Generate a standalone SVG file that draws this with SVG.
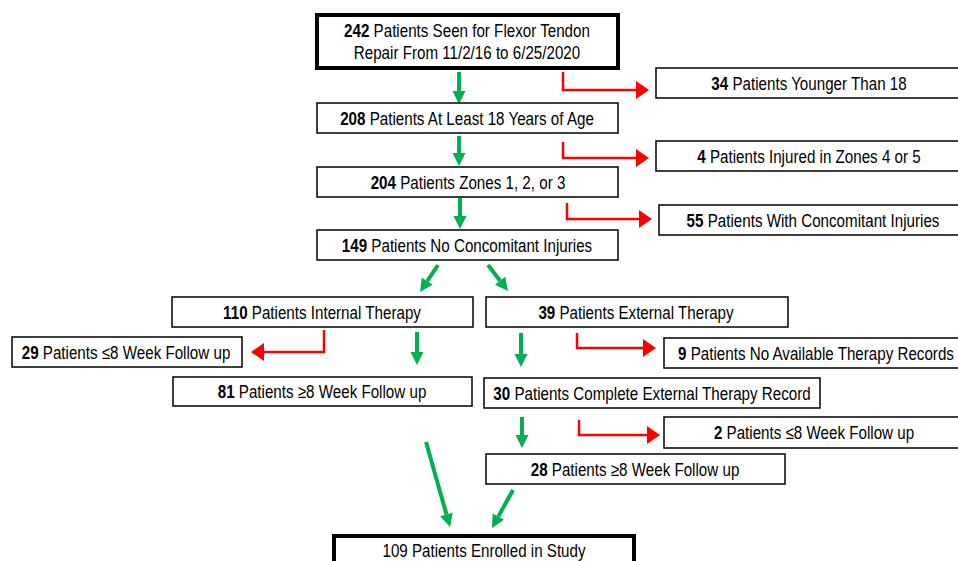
<svg xmlns="http://www.w3.org/2000/svg" width="958" height="561" viewBox="0 0 958 561">
<style>
  .box { fill: #fff; stroke: #000; stroke-width: 1.5; }
  .thick { fill: #fff; stroke: #000; stroke-width: 4; }
  text { font-family: "Liberation Sans", Arial, sans-serif; font-size: 18.5px; fill: #000; text-anchor: middle; }
  .b { font-weight: bold; }
  .g { fill: none; stroke: #00B050; stroke-width: 4; }
  .r { fill: none; stroke: #FF0000; stroke-width: 2.5; }
</style>
<defs>
  <marker id="mg" markerUnits="userSpaceOnUse" markerWidth="14" markerHeight="14" refX="0" refY="6.5" orient="auto" overflow="visible">
    <path d="M0,0 L13,6.5 L0,13 z" fill="#00B050"/>
  </marker>
  <marker id="mr" markerUnits="userSpaceOnUse" markerWidth="14" markerHeight="19" refX="0" refY="9" orient="auto" overflow="visible">
    <path d="M0,0 L13,9 L0,18 z" fill="#FF0000"/>
  </marker>
</defs>
<rect width="958" height="561" fill="#fff"/>

<g id="connectors">
  <path class="g" d="M459,72 V91" marker-end="url(#mg)"/>
  <path class="g" d="M459,136 V153" marker-end="url(#mg)"/>
  <path class="g" d="M460,198 V216" marker-end="url(#mg)"/>
  <path class="g" d="M438,265 L427.2,281.2" marker-end="url(#mg)"/>
  <path class="g" d="M488,265 L500.1,280.7" marker-end="url(#mg)"/>
  <path class="g" d="M417,332 V352" marker-end="url(#mg)"/>
  <path class="g" d="M521,333 V354" marker-end="url(#mg)"/>
  <path class="g" d="M522,417 V435" marker-end="url(#mg)"/>
  <path class="g" d="M426,442 L446.5,514.5" marker-end="url(#mg)"/>
  <path class="g" d="M513,490 L498.3,516.6" marker-end="url(#mg)"/>

  <path class="r" d="M563,72 V90 H636" marker-end="url(#mr)"/>
  <path class="r" d="M563,142 V158 H636" marker-end="url(#mr)"/>
  <path class="r" d="M567,203 V219 H639" marker-end="url(#mr)"/>
  <path class="r" d="M324,330 V352 H264" marker-end="url(#mr)"/>
  <path class="r" d="M577,333 V348 H643" marker-end="url(#mr)"/>
  <path class="r" d="M579,420 V435 H647" marker-end="url(#mr)"/>
</g>

<g id="n242">
  <rect class="thick" x="317" y="15" width="301" height="53"/>
  <text transform="translate(467 37) scale(0.82 1)"><tspan class="b">242</tspan> Patients Seen for Flexor Tendon</text>
  <text transform="translate(467 59) scale(0.82 1)">Repair From 11/2/16 to 6/25/2020</text>
</g>
<g id="n208">
  <rect class="box" x="317" y="103" width="301" height="30"/>
  <text transform="translate(467 124.5) scale(0.82 1)"><tspan class="b">208</tspan> Patients At Least 18 Years of Age</text>
</g>
<g id="n204">
  <rect class="box" x="317" y="167" width="301" height="30"/>
  <text transform="translate(468 188.5) scale(0.82 1)"><tspan class="b">204</tspan> Patients Zones 1, 2, or 3</text>
</g>
<g id="n149">
  <rect class="box" x="317" y="230" width="301" height="30"/>
  <text transform="translate(467 251.5) scale(0.82 1)"><tspan class="b">149</tspan> Patients No Concomitant Injuries</text>
</g>
<g id="n34">
  <rect class="box" x="656" y="68" width="320" height="30"/>
  <text transform="translate(809 89.5) scale(0.82 1)"><tspan class="b">34</tspan> Patients Younger Than 18</text>
</g>
<g id="n4">
  <rect class="box" x="656" y="141" width="320" height="30"/>
  <text transform="translate(809 162.5) scale(0.82 1)"><tspan class="b">4</tspan> Patients Injured in Zones 4 or 5</text>
</g>
<g id="n55">
  <rect class="box" x="659" y="205" width="320" height="30"/>
  <text transform="translate(813 226.5) scale(0.82 1)"><tspan class="b">55</tspan> Patients With Concomitant Injuries</text>
</g>
<g id="n110">
  <rect class="box" x="172" y="297" width="301" height="30"/>
  <text transform="translate(322 318.5) scale(0.82 1)"><tspan class="b">110</tspan> Patients Internal Therapy</text>
</g>
<g id="n39">
  <rect class="box" x="486" y="297" width="302" height="30"/>
  <text transform="translate(636 318.5) scale(0.82 1)"><tspan class="b">39</tspan> Patients External Therapy</text>
</g>
<g id="n29">
  <rect class="box" x="12" y="337" width="230" height="30"/>
  <text transform="translate(126 358.5) scale(0.82 1)"><tspan class="b">29</tspan> Patients ≤8 Week Follow up</text>
</g>
<g id="n9">
  <rect class="box" x="664" y="338" width="320" height="30"/>
  <text transform="translate(816 359.5) scale(0.82 1)"><tspan class="b">9</tspan> Patients No Available Therapy Records</text>
</g>
<g id="n81">
  <rect class="box" x="173" y="377" width="299" height="29"/>
  <text transform="translate(322 398) scale(0.82 1)"><tspan class="b">81</tspan> Patients ≥8 Week Follow up</text>
</g>
<g id="n30">
  <rect class="box" x="484" y="378" width="336" height="30"/>
  <text transform="translate(652 399.5) scale(0.82 1)"><tspan class="b">30</tspan> Patients Complete External Therapy Record</text>
</g>
<g id="n2">
  <rect class="box" x="664" y="417" width="320" height="31"/>
  <text transform="translate(814 439) scale(0.82 1)"><tspan class="b">2</tspan> Patients ≤8 Week Follow up</text>
</g>
<g id="n28">
  <rect class="box" x="486" y="454" width="299" height="30"/>
  <text transform="translate(635 475.5) scale(0.82 1)"><tspan class="b">28</tspan> Patients ≥8 Week Follow up</text>
</g>
<g id="n109">
  <rect class="thick" x="334" y="536" width="300" height="40"/>
  <text transform="translate(484 557) scale(0.82 1)">109 Patients Enrolled in Study</text>
</g>
</svg>
